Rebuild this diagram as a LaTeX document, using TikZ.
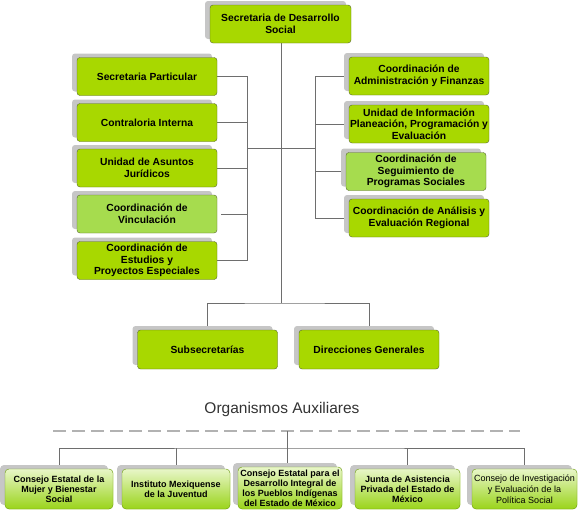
\documentclass[tikz,border=0pt]{standalone}
\usepackage{fontspec}
\setmainfont{Liberation Sans}
\usetikzlibrary{shadows,backgrounds}
\definecolor{boxgreen}{HTML}{A8D800}
\definecolor{softgreen}{HTML}{A6DC4E}
\definecolor{boxedge}{HTML}{58662E}
\definecolor{linegray}{HTML}{6E6E6E}
\definecolor{shadegray}{HTML}{C6C6C6}
\definecolor{palegreen}{HTML}{E8F6C8}
\definecolor{auxgreen}{HTML}{9AD41A}
\definecolor{auxedge}{HTML}{6E9A1E}
\definecolor{titlegray}{HTML}{333333}
\begin{document}
\begin{tikzpicture}[x=1pt, y=-1pt,
    unit/.style={draw=boxedge, fill=boxgreen, rounded corners=3pt,
        minimum width=140pt, minimum height=38pt, inner sep=1pt,
        align=center, font=\fontsize{10.3}{11.5}\selectfont\bfseries,
        drop shadow={shadow xshift=-5pt, shadow yshift=4pt, fill=shadegray, opacity=1}},
    softunit/.style={unit, fill=softgreen},
    auxunit/.style={unit, draw=auxedge, top color=palegreen, bottom color=auxgreen,
        minimum height=40pt, rounded corners=4pt,
        font=\fontsize{9}{10}\selectfont\bfseries},
    link/.style={draw=linegray, line width=0.9pt},
    cutline/.style={draw=gray!60, line width=2pt, dash pattern=on 13pt off 6pt}]
    \useasboundingbox (0,0) rectangle (581,509);

    %head of the secretariat
    \node[unit, minimum width=141pt] (sds) at (280.5,24) {Secretaria de Desarrollo\\Social};

    %left column
    \node[unit] (sp) at (147,76.5) {Secretaria Particular};
    \node[unit] (ci) at (147,122.5) {Contraloria Interna};
    \node[unit] (uaj) at (147,168) {Unidad de Asuntos\\Jurídicos};
    \node[softunit] (cv) at (147,214) {Coordinación de\\Vinculación};
    \node[unit] (cepe) at (147,260.5) {Coordinación de\\Estudios y\\Proyectos Especiales};

    %right column
    \node[unit] (caf) at (419,76) {Coordinación de\\Administración y Finanzas};
    \node[unit] (uip) at (419,124) {Unidad de Información\\Planeación, Programación y\\Evaluación};
    \node[softunit] (csp) at (416,171.5) {Coordinación de\\Seguimiento de\\Programas Sociales};
    \node[unit] (caer) at (419,218) {Coordinación de Análisis y\\Evaluación Regional};

    %lower level
    \node[unit, minimum height=39pt] (subs) at (207.5,349.5) {Subsecretarías};
    \node[unit, minimum height=39pt] (dirg) at (369,349.5) {Direcciones Generales};

    %auxiliary bodies
    \node[font=\fontsize{15.5}{18}\selectfont, text=titlegray] (aux) at (282,409) {Organismos Auxiliares};
    \node[auxunit, minimum width=108pt] (cem) at (59,489) {Consejo Estatal de la\\Mujer y Bienestar\\Social};
    \node[auxunit, minimum width=108pt] (imj) at (176,489) {Instituto Mexiquense\\de la Juventud};
    \node[auxunit, minimum width=104pt, minimum height=42pt] (cedi) at (290,488) {Consejo Estatal para el\\Desarrollo Integral de\\los Pueblos Indígenas\\del Estado de México};
    \node[auxunit, minimum width=105pt] (jap) at (407.5,489) {Junta de Asistencia\\Privada del Estado de\\México};
    \node[auxunit, minimum width=105pt, font=\fontsize{9}{11}\selectfont] (ciep) at (524.5,489) {Consejo de Investigación\\y Evaluación de la\\Política Social};

    %links, kept behind the boxes and their shadows
    \coordinate (lowbus) at (281,303);
    \coordinate (lbus) at (247,148);
    \coordinate (rbus) at (315,148);
    \coordinate (dashl) at (53,431);
    \coordinate (dashr) at (520,431);
    \coordinate (auxtop) at (287,431);
    \coordinate (auxbus) at (287,448);
    \begin{scope}[on background layer]
        \draw[link] (sds.south -| lowbus) -- (lowbus);
        \draw[link] (lbus) -- (rbus);
        \draw[link] (sp.east) -- (sp.east -| lbus) -- (cepe.east -| lbus) -- (cepe.east);
        \foreach \n in {ci,uaj} \draw[link] (\n.east) -- (\n.east -| lbus);
        \draw[link] ([xshift=4pt]cv.east) -- (cv.east -| lbus);
        \draw[link] (caf.west) -- (caf.west -| rbus) -- (caer.west -| rbus) -- (caer.west);
        \foreach \n in {uip,csp} \draw[link] (\n.west) -- (\n.west -| rbus);
        \draw[link] (subs.north) |- (lowbus) -| (dirg.north);

        \draw[cutline] (dashl) -- (dashr);
        \draw[link] (auxtop) -- (auxtop |- cedi.north);
        \draw[link] (cem.north) |- (auxbus) -| (ciep.north);
        \foreach \n in {imj,jap} \draw[link] (\n.north) -- (\n.north |- auxbus);
    \end{scope}
\end{tikzpicture}
\end{document}
